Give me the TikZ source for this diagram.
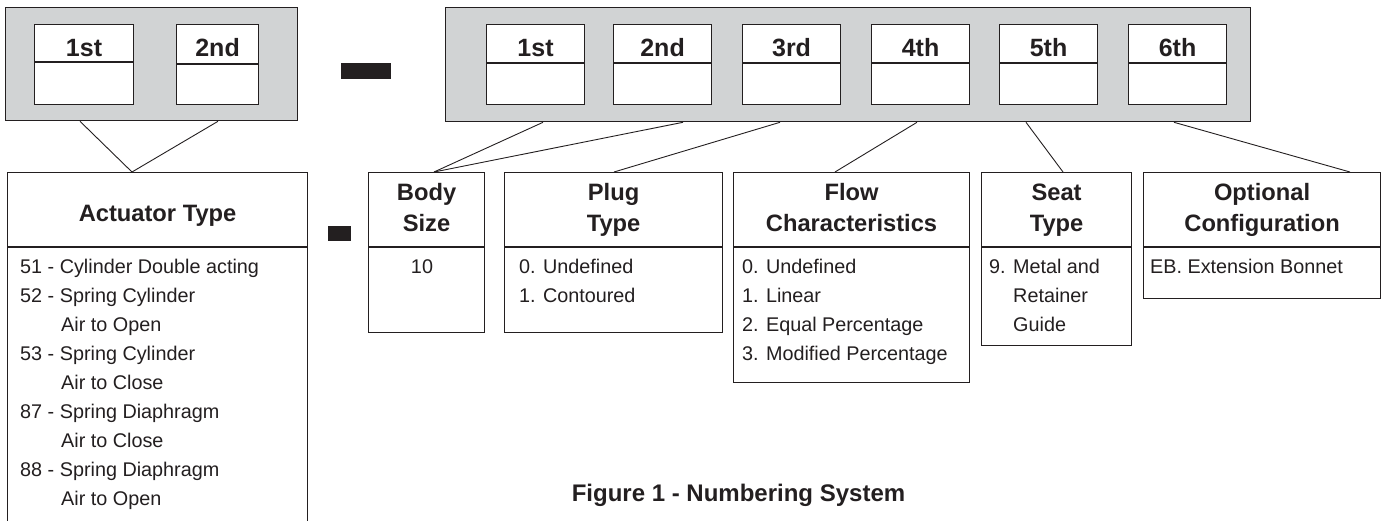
\documentclass[tikz,border=0pt]{standalone}
\usepackage{fontspec}
\setmainfont{Liberation Sans}
\usetikzlibrary{calc}
\definecolor{ink}{RGB}{35,31,32}
\definecolor{panel}{RGB}{209,211,212}
\newcommand\divline[2]{\draw[divider] ($(#1.north west)+(0,#2)$) -- ($(#1.north east)+(0,#2)$);}
\begin{document}
\begin{tikzpicture}[x=1pt,y=-1pt,
  panelbox/.style={draw=ink, fill=panel, line width=1.3pt, anchor=north west, inner sep=0pt},
  digitbox/.style={draw=ink, fill=white, line width=1.1pt, anchor=north west, inner sep=0pt, minimum width=98pt, minimum height=80pt},
  infobox/.style={draw=ink, fill=white, line width=1.1pt, anchor=north west, inner sep=0pt},
  divider/.style={draw=ink, line width=1.1pt},
  link/.style={draw=ink, line width=0.9pt},
  slotlabel/.style={font=\fontsize{25}{25}\selectfont\bfseries, text=ink, anchor=base, inner sep=0pt},
  head/.style={font=\fontsize{23.7}{31.5}\selectfont\bfseries, text=ink, align=center, anchor=base, inner sep=0pt},
  item/.style={font=\fontsize{19.8}{24}\selectfont, text=ink, anchor=base west, inner sep=0pt},
  bar/.style={fill=ink, draw=none, anchor=north west, inner sep=0pt}
]
\useasboundingbox (0,0) rectangle (1387,520);

% left panel
\node[panelbox, minimum width=292pt, minimum height=113pt] (lpanel) at (5,7) {};
\node[digitbox, minimum width=99pt] (l1) at (34,24) {};
\node[digitbox, minimum width=82pt] (l2) at (176,24) {};
\divline{l1}{38}
\divline{l2}{40}
\node[slotlabel] (l1t) at ($(l1.north)+(0,32)$) {1st};
\node[slotlabel] (l2t) at ($(l2.north)+(0,32)$) {2nd};

% dashes
\node[bar, minimum width=50pt, minimum height=16pt] (dash1) at (341,63) {};
\node[bar, minimum width=23pt, minimum height=15pt] (dash2) at (328,226) {};

% right panel
\node[panelbox, minimum width=805pt, minimum height=114pt] (rpanel) at (445,7) {};
\foreach \n/\x/\t in {1/486/1st,2/613/2nd,3/742/3rd,4/871/4th,5/999/5th,6/1128/6th}{
  \node[digitbox] (r\n) at (\x,24) {};
  \divline{r\n}{39}
  \node[slotlabel] (r\n t) at ($(r\n.north)+(0,32)$) {\t};
}

% info boxes
\node[infobox, minimum width=300pt, minimum height=360pt] (act) at (7,172) {};
\node[infobox, minimum width=116pt, minimum height=160pt] (body) at (368,172) {};
\node[infobox, minimum width=218pt, minimum height=160pt] (plug) at (504,172) {};
\node[infobox, minimum width=236pt, minimum height=210pt] (flow) at (733,172) {};
\node[infobox, minimum width=150pt, minimum height=173pt] (seat) at (981,172) {};
\node[infobox, minimum width=237pt, minimum height=126pt] (opt) at (1143,172) {};
\foreach \b in {act,body,plug,flow,seat,opt}{\divline{\b}{75}}

% headers (base anchor = baseline of the last line)
\node[head] (acth) at ($(act.north)+(0,49)$) {Actuator Type};
\node[head] (bodyh) at ($(body.north)+(0,59.5)$) {Body\\Size};
\node[head] (plugh) at ($(plug.north)+(0,59.5)$) {Plug\\Type};
\node[head] (flowh) at ($(flow.north)+(0,59.5)$) {Flow\\Characteristics};
\node[head] (seath) at ($(seat.north)+(0,59.5)$) {Seat\\Type};
\node[head] (opth) at ($(opt.north)+(0,59.5)$) {Optional\\Configuration};

% actuator items
\node[item] (a1) at (20,273) {51 - Cylinder Double acting};
\node[item] (a2) at (20,302.1) {52 - Spring Cylinder};
\node[item] (a3) at (61,331.2) {Air to Open};
\node[item] (a4) at (20,360.3) {53 - Spring Cylinder};
\node[item] (a5) at (61,389.4) {Air to Close};
\node[item] (a6) at (20,418.5) {87 - Spring Diaphragm};
\node[item] (a7) at (61,447.6) {Air to Close};
\node[item] (a8) at (20,476.7) {88 - Spring Diaphragm};
\node[item] (a9) at (61,505.8) {Air to Open};

% other items
\node[item, anchor=base] (b1) at (422,273) {10};
\node[item] (p1) at (519,273) {0. Undefined};
\node[item] (p2) at (519,302.3) {1. Contoured};
\node[item] (f1) at (742,273) {0. Undefined};
\node[item] (f2) at (742,302.3) {1. Linear};
\node[item] (f3) at (742,331.6) {2. Equal Percentage};
\node[item] (f4) at (742,360.9) {3. Modified Percentage};
\node[item] (s1) at (989,273) {9. Metal and};
\node[item] (s2) at (1013,302.3) {Retainer};
\node[item] (s3) at (1013,331.6) {Guide};
\node[item] (o1) at (1150,273) {EB. Extension Bonnet};

% connectors
\draw[link] ([xshift=75pt]lpanel.south west) -- ([xshift=125pt]act.north west);
\draw[link] ([xshift=213pt]lpanel.south west) -- ([xshift=125pt]act.north west);
\draw[link] ([xshift=98pt]rpanel.south west) -- ([xshift=66pt]body.north west);
\draw[link] ([xshift=238pt]rpanel.south west) -- ([xshift=66pt]body.north west);
\draw[link] ([xshift=335pt]rpanel.south west) -- ([xshift=110pt]plug.north west);
\draw[link] ([xshift=472pt]rpanel.south west) -- ([xshift=102pt]flow.north west);
\draw[link] ([xshift=581pt]rpanel.south west) -- ([xshift=82pt]seat.north west);
\draw[link] ([xshift=729pt]rpanel.south west) -- ([xshift=207pt]opt.north west);

% caption
\node[font=\fontsize{24}{24}\selectfont\bfseries, text=ink, anchor=base, inner sep=0pt] (cap) at (738.5,501.5) {Figure 1 - Numbering System};
\end{tikzpicture}
\end{document}
